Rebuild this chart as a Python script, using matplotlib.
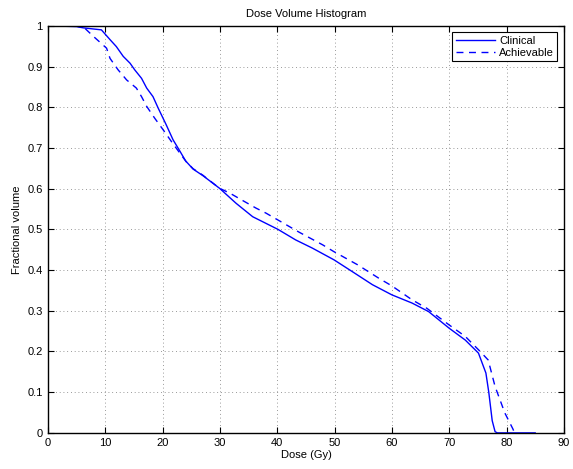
import numpy as np
import matplotlib.pyplot as plt
from matplotlib.ticker import FuncFormatter

# dose (Gy) and fractional volume
dose_clin = [0, 5.0, 6.1, 9.3, 10.8, 11.9, 13.1, 14.3, 15.1, 16.3, 17.2, 18.3, 19.2,
             20.6, 21.8, 23.0, 24.0, 25.3, 27.0, 29.9, 32.8, 35.7, 40.1, 43.2, 46.1,
             49.9, 53.1, 56.6, 60.0, 63.5, 66.4, 70.0, 72.8, 75.1, 76.4, 76.9, 77.5,
             78.0, 78.4, 85.0]
vol_clin = [1.0, 0.998, 0.995, 0.99, 0.966, 0.949, 0.925, 0.908, 0.892, 0.871, 0.847,
            0.826, 0.798, 0.757, 0.72, 0.692, 0.668, 0.648, 0.632, 0.601, 0.564, 0.531,
            0.5, 0.474, 0.454, 0.425, 0.396, 0.364, 0.339, 0.319, 0.298, 0.257, 0.228,
            0.196, 0.147, 0.1, 0.03, 0.003, 0.0, 0.0]

dose_ach = [0, 5.0, 6.4, 7.9, 10.2, 10.8, 12.2, 13.7, 15.4, 16.3, 17.2, 18.6, 20.1,
            21.5, 23.0, 24.1, 25.3, 27.0, 29.9, 31.7, 34.3, 36.3, 38.0, 40.1, 43.8,
            47.9, 49.9, 54.0, 57.7, 60.0, 63.5, 66.1, 70.0, 72.8, 75.4, 76.8, 78.0,
            79.7, 81.1, 81.4]
vol_ach = [1.0, 0.999, 0.994, 0.974, 0.945, 0.92, 0.892, 0.867, 0.847, 0.826, 0.802,
           0.773, 0.744, 0.716, 0.687, 0.666, 0.649, 0.633, 0.601, 0.589, 0.568, 0.552,
           0.54, 0.523, 0.493, 0.462, 0.445, 0.413, 0.38, 0.361, 0.327, 0.306, 0.265,
           0.237, 0.2, 0.179, 0.114, 0.049, 0.01, 0.0]

plt.rcParams['font.family'] = ['Liberation Sans', 'DejaVu Sans']
plt.rcParams['font.size'] = 8

fig = plt.figure(figsize=(5.73, 4.69), dpi=100)
ax = fig.add_axes([0.084, 0.077, 0.9, 0.868])

ax.plot(dose_clin, vol_clin, color='blue', lw=1.0, label='Clinical')
ax.plot(dose_ach, vol_ach, color='blue', lw=1.0, ls=(0, (5, 4)), label='Achievable')

ax.set_xlim(0, 90)
ax.set_ylim(0, 1)
ax.set_xticks(np.arange(0, 91, 10))
ax.set_yticks(np.arange(0, 1.01, 0.1))
ax.yaxis.set_major_formatter(FuncFormatter(lambda v, p: ('%g' % round(v, 1))))
ax.tick_params(direction='in', top=True, right=True, length=4, width=0.8,
               labelsize=8, pad=4)
ax.grid(True, ls=(0, (1, 3.5)), color='#777777', lw=0.6)
for s in ax.spines.values():
    s.set_linewidth(1.0)

ax.set_title('Dose Volume Histogram', fontsize=8, pad=6)
ax.set_xlabel('Dose (Gy)', fontsize=8, labelpad=1)
ax.set_ylabel('Fractional volume', fontsize=8, labelpad=4)

leg = ax.legend(loc='upper right', fancybox=False, edgecolor='black', framealpha=1,
                borderaxespad=0.6, handlelength=3.5, fontsize=8,
                borderpad=0.3, labelspacing=0.2, handletextpad=0.4)
leg.get_frame().set_linewidth(0.8)

fig.savefig('out.png', dpi=100)
